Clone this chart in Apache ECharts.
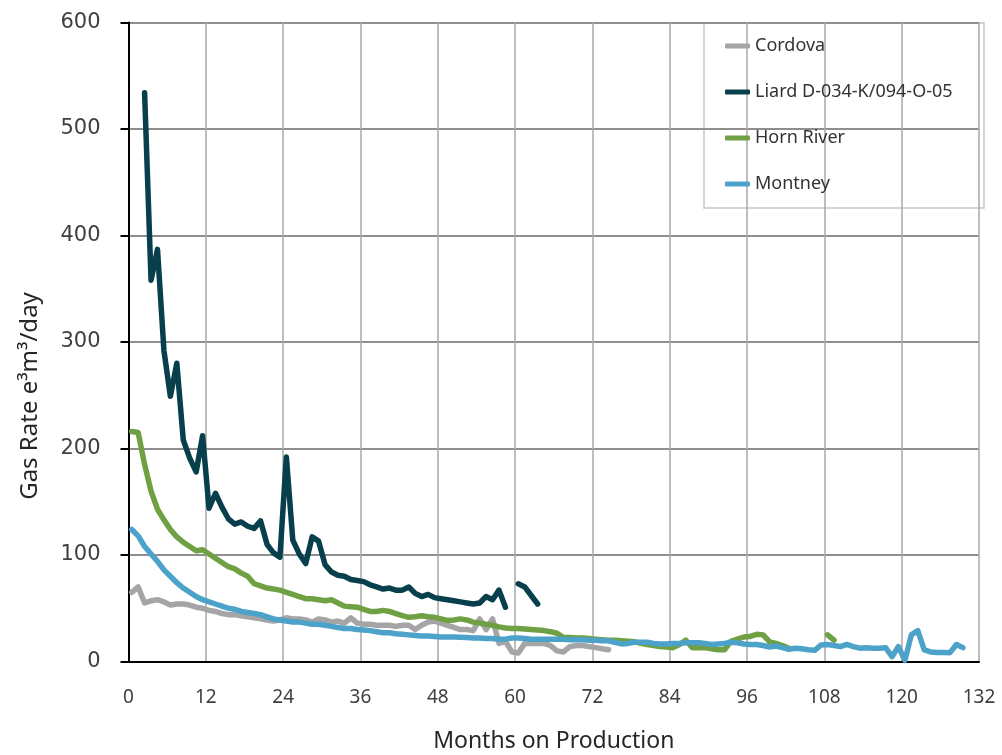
<!DOCTYPE html>
<html><head><meta charset="utf-8">
<script src="https://cdn.jsdelivr.net/npm/echarts@6/dist/echarts.min.js"></script>
<style>html,body{margin:0;padding:0;background:#fff}#c{width:1002px;height:755px}</style>
</head><body><div id="c"></div>
<script>
// ---- data ----
const xTicks = [0, 12, 24, 36, 48, 60, 72, 84, 96, 108, 120, 132];
const yTicks = [0, 100, 200, 300, 400, 500, 600];
const seriesNames = ['Cordova', 'Liard D-034-K/094-O-05', 'Horn River', 'Montney'];
const seriesColors = ['#a5a5a7', '#083f4c', '#70a044', '#4ca2c9'];

// monthly gas rate (e3m3/day); each array starts at the given month
const cordovaStart = 0.5;
const cordova = [65,70,55,57,58,56,53,54,54,53,51,50,48,47,45,44,44,43,42,41,
  40,39,38,39,41,40,40,39,37,40,39,37,38,36,41,36,35,35,34,34,
  34,33,34,34,30,34,37,38,36,34,32,30,30,29,40,30,40,17,19,9,
  8,17,17,17,17,15,10,9,14,15,15,14,13,12,11];

const liardStart = 2.5;
const liard = [534,358,387,292,249,280,208,191,178,212,144,158,145,134,129,131,127,125,132,110,
  102,98,192,114,101,92,117,113,91,84,81,80,77,76,75,72,70,68,69,67,
  67,70,64,61,63,60,59,58,57,56,55,54,55,61,58,67,51,null,73,70,
  62,54];

const hornRiverStart = 0.5;
const hornRiver = [216,215,185,160,143,133,124,117,112,108,104,105,101,97,93,89,87,83,80,73,
  71,69,68,67,65,63,61,59,59,58,57,58,55,52,51.5,51,49,47,47,48,
  47,45,43,41.5,42,43,42,41.5,40,38.5,39,40,39,37,36,35,34,32.5,31.5,31,
  31,30.5,30,29.5,29,28,26.5,22.7,22.5,22,22,21.5,21,20.5,20,20,19.5,19,18.6,17,
  16,15,14,13.5,13,16,20,13,13,13,12,11,11,19,21,23,23.5,25.5,25,18.5,
  17,15,12.4,null,null,null,null,null,25,20];

const montneyStart = 0.5;
const montney = [124,118,108,101,94,86,80,74,69,65,61,58,56,54,52,50,49,47,46,45,
  44,42,40,39,38,37,37,36,35,35,34,33,32,31,31,30,29.6,29,28,27,
  27,26,25.5,25,24.5,24,24,23.5,23,23,23,22.7,22.5,22,22,21.5,21.5,21,21,22,
  22,21.5,21,21,21,21,21,20.8,20.5,20.5,20.5,20,20,19.5,19.5,18,16.5,17,18,18,
  18,17,16.5,16.5,17,17,17.5,17.5,17.5,17,16,16.5,17,18,17.5,16.5,16,16,15,13.5,
  14.5,13,11.5,12.5,12,11,10.5,15.5,16,15,14,16,14,12.5,13,12.5,12.5,13,4.5,14,
  1,25,29,11,9,8.5,8.5,8.3,16,13];

const seriesValues = [cordova, liard, hornRiver, montney];
const seriesStarts = [cordovaStart, liardStart, hornRiverStart, montneyStart];

// ---- chart ----
const chart = echarts.init(document.getElementById('c'), null, {renderer: 'canvas'});
const textFont = "'Noto Sans', 'Open Sans', sans-serif";

const series = seriesNames.map((name, k) => ({
  name: name,
  type: 'line',
  data: seriesValues[k].map((v, i) => [seriesStarts[k] + i, v]),
  showSymbol: false,
  symbol: 'none',
  connectNulls: false,
  smooth: false,
  animation: false,
  lineStyle: {color: seriesColors[k], width: 5.5, cap: 'round', join: 'round'},
  itemStyle: {color: seriesColors[k]},
  z: 2 + k
}));

chart.setOption({
  animation: false,
  backgroundColor: '#ffffff',
  grid: {left: 128.5, top: 22.5, right: 23, bottom: 93.5, containLabel: false, outerBoundsMode: 'none'},
  xAxis: {
    type: 'value',
    min: xTicks[0], max: xTicks[xTicks.length - 1], interval: 12,
    name: 'Months on Production',
    nameLocation: 'middle',
    nameGap: 68,
    nameTextStyle: {fontFamily: textFont, fontSize: 23, color: '#262626'},
    axisLine: {show: true, onZero: false, lineStyle: {color: '#000', width: 2}},
    axisTick: {show: false},
    axisLabel: {margin: 27, fontFamily: textFont, fontSize: 19, color: '#404040'},
    splitLine: {show: true, lineStyle: {color: '#a8a8a8', width: 1.5}}
  },
  yAxis: {
    type: 'value',
    min: yTicks[0], max: yTicks[yTicks.length - 1], interval: 100,
    axisLine: {show: true, lineStyle: {color: '#000', width: 2}},
    axisTick: {show: true, inside: false, length: 8, lineStyle: {color: '#000', width: 2}},
    axisLabel: {margin: 28, fontFamily: "'DejaVu Sans', Verdana, sans-serif", fontSize: 21, color: '#404040'},
    splitLine: {show: true, lineStyle: {color: '#8e8e8e', width: 2}}
  },
  legend: {
    data: seriesNames,
    orient: 'vertical',
    left: 725, top: 36,
    padding: 0,
    itemWidth: 25, itemHeight: 5,
    itemGap: 26,
    icon: 'roundRect',
    textStyle: {fontFamily: textFont, fontSize: 18, color: '#333333', lineHeight: 20}
  },
  graphic: [
    {
      type: 'rect', z: 0,
      shape: {x: 704, y: 23, width: 280, height: 185},
      style: {fill: '#ffffff', stroke: '#c6c6c6', lineWidth: 1.5}
    },
    {
      type: 'text', z: 10,
      x: 30, y: 396, rotation: Math.PI / 2,
      style: {text: 'Gas Rate e³m³/day', fontFamily: textFont, fontSize: 24, fill: '#262626',
        align: 'center', verticalAlign: 'middle'}
    }
  ],
  series: series
});
</script>
</body></html>
